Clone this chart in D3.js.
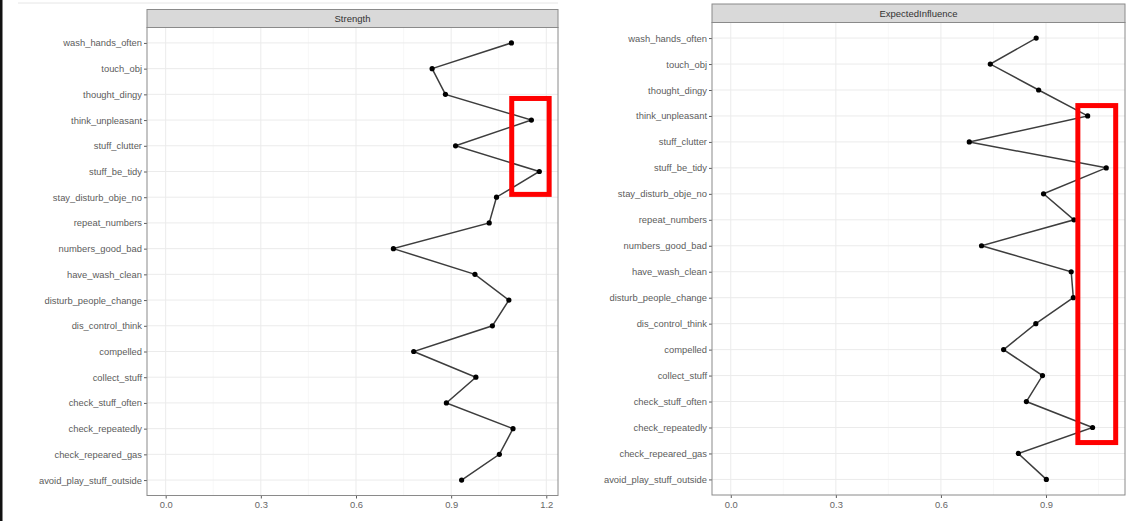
<!DOCTYPE html>
<html>
<head>
<meta charset="utf-8">
<script src="https://cdn.jsdelivr.net/npm/d3@7"></script>
<style>
  body { margin: 0; background: #fff; }
  svg text { font-family: "Liberation Sans", Arial, sans-serif; }
</style>
</head>
<body>
<div id="chart"></div>
<script>
// node names, top to bottom
const nodes = [
    'wash_hands_often', 'touch_obj', 'thought_dingy', 'think_unpleasant',
    'stuff_clutter', 'stuff_be_tidy', 'stay_disturb_obje_no', 'repeat_numbers',
    'numbers_good_bad', 'have_wash_clean', 'disturb_people_change', 'dis_control_think',
    'compelled', 'collect_stuff', 'check_stuff_often', 'check_repeatedly',
    'check_repeared_gas', 'avoid_play_stuff_outside'
];

const strength = [1.090, 0.840, 0.882, 1.153, 0.914, 1.178, 1.043, 1.020, 0.718,
                  0.975, 1.082, 1.030, 0.782, 0.978, 0.885, 1.095, 1.052, 0.933];

const expectedInfluence = [0.872, 0.741, 0.879, 1.019, 0.681, 1.072, 0.893, 0.980, 0.716,
                           0.972, 0.978, 0.871, 0.779, 0.890, 0.844, 1.033, 0.821, 0.901];

const xTicks = [0, 0.3, 0.6, 0.9, 1.2];

// red highlight boxes: x range in data units, rows (index) with extra row offsets
const boxStrength = { x0: 1.091, x1: 1.209, r0: 3, r1: 5, pad0: -0.84, pad1: 0.89 };
const boxEI = { x0: 0.991, x1: 1.099, r0: 3, r1: 15, pad0: -0.4, pad1: 0.58 };

const width = 1130, height = 521;

const svg = d3.select('#chart')
              .append('svg')
              .attr('width', width)
              .attr('height', height);

// frame bits from the pasted screenshot
svg.append('rect').attr('x', 0).attr('y', 0).attr('width', 2.5).attr('height', height).attr('fill', '#111');
svg.append('line').attr('x1', 18).attr('x2', 558).attr('y1', 3).attr('y2', 3)
   .attr('stroke', '#e6e6e6').attr('stroke-width', 1);

drawPanel({ title: 'Strength', values: strength, box: boxStrength,
            left: 147, right: 558, stripTop: 9.5, top: 27.5, bottom: 495.5 });
drawPanel({ title: 'ExpectedInfluence', values: expectedInfluence, box: boxEI,
            left: 712, right: 1125, stripTop: 4, top: 22.5, bottom: 495 });

function drawPanel(p) {
    // ggplot style limits: include 0, expand 5%
    const lo = Math.min(0, d3.min(p.values)), hi = d3.max(p.values);
    const pad = (hi - lo) * 0.05;

    const x = d3.scaleLinear().domain([lo - pad, hi + pad]).range([p.left, p.right]);
    const y = d3.scalePoint().domain(nodes).range([p.top, p.bottom]).padding(0.6);

    const g = svg.append('g');
    const ticks = xTicks.filter(t => t <= hi + pad);
    const minor = d3.range(0.15, hi + pad, 0.3);

    // grid
    g.selectAll('.minor').data(minor).enter().append('line')
     .attr('x1', d => x(d)).attr('x2', d => x(d))
     .attr('y1', p.top).attr('y2', p.bottom)
     .attr('stroke', '#f3f3f3').attr('stroke-width', 0.6);

    g.selectAll('.major').data(ticks).enter().append('line')
     .attr('x1', d => x(d)).attr('x2', d => x(d))
     .attr('y1', p.top).attr('y2', p.bottom)
     .attr('stroke', '#ebebeb').attr('stroke-width', 1);

    g.selectAll('.rowgrid').data(nodes).enter().append('line')
     .attr('x1', p.left).attr('x2', p.right)
     .attr('y1', d => y(d)).attr('y2', d => y(d))
     .attr('stroke', '#ebebeb').attr('stroke-width', 1);

    // strip
    g.append('rect')
     .attr('x', p.left).attr('y', p.stripTop)
     .attr('width', p.right - p.left).attr('height', p.top - p.stripTop)
     .attr('fill', '#d9d9d9').attr('stroke', '#8a8a8a').attr('stroke-width', 1);

    g.append('text')
     .attr('x', (p.left + p.right) / 2).attr('y', (p.stripTop + p.top) / 2 + 3.5)
     .attr('text-anchor', 'middle').attr('font-size', 9.5).attr('fill', '#333')
     .text(p.title);

    // axes
    const yAxis = g.append('g')
                   .attr('transform', `translate(${p.left},0)`)
                   .call(d3.axisLeft(y).tickSize(3).tickPadding(2));
    yAxis.select('.domain').remove();
    yAxis.selectAll('text').attr('font-size', 9.4).attr('fill', '#5c5c5c');
    yAxis.selectAll('line').attr('stroke', '#5c5c5c');

    const xAxis = g.append('g')
                   .attr('transform', `translate(0,${p.bottom})`)
                   .call(d3.axisBottom(x).tickValues(ticks).tickFormat(d3.format('.1f'))
                           .tickSize(3).tickPadding(3));
    xAxis.select('.domain').remove();
    xAxis.selectAll('text').attr('font-size', 9.4).attr('fill', '#666');
    xAxis.selectAll('line').attr('stroke', '#5c5c5c');

    // panel border
    g.append('rect')
     .attr('x', p.left).attr('y', p.top)
     .attr('width', p.right - p.left).attr('height', p.bottom - p.top)
     .attr('fill', 'none').attr('stroke', '#8a8a8a').attr('stroke-width', 1);

    // line + points
    const line = d3.line().x(d => x(d)).y((d, i) => y(nodes[i]));

    g.append('path')
     .datum(p.values)
     .attr('d', line)
     .attr('fill', 'none').attr('stroke', '#3d3d3d').attr('stroke-width', 1.5);

    g.selectAll('.pt').data(p.values).enter().append('circle')
     .attr('cx', d => x(d))
     .attr('cy', (d, i) => y(nodes[i]))
     .attr('r', 2.6)
     .attr('fill', '#000');

    // highlight box
    const step = y.step();
    const b = p.box;
    const by0 = y(nodes[b.r0]) + b.pad0 * step, by1 = y(nodes[b.r1]) + b.pad1 * step;
    g.append('rect')
     .attr('x', x(b.x0)).attr('y', by0)
     .attr('width', x(b.x1) - x(b.x0)).attr('height', by1 - by0)
     .attr('fill', 'none').attr('stroke', '#ff0000').attr('stroke-width', 5);
}
</script>
</body>
</html>
